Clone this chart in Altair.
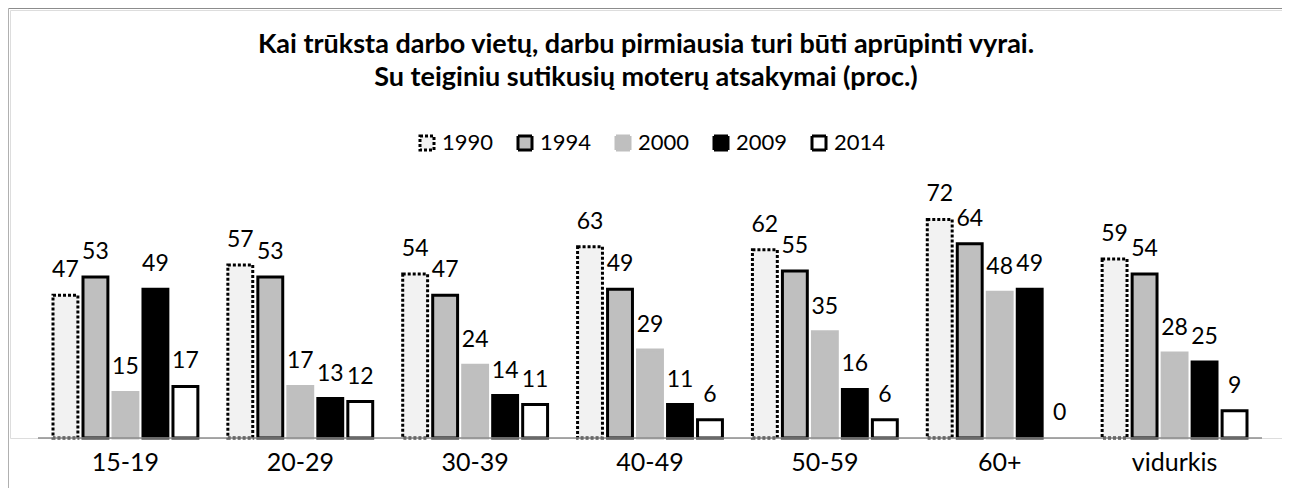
import altair as alt
import pandas as pd

categories = ["15-19", "20-29", "30-39", "40-49", "50-59", "60+", "vidurkis"]
years = ["1990", "1994", "2000", "2009", "2014"]
v1990 = [47, 57, 54, 63, 62, 72, 59]
v1994 = [53, 53, 47, 49, 55, 64, 54]
v2000 = [15, 17, 24, 29, 35, 48, 28]
v2009 = [49, 13, 14, 11, 16, 49, 25]
v2014 = [17, 12, 11, 6, 6, 0, 9]

title_lines = [
    "Kai trūksta darbo vietų, darbu pirmiausia turi būti aprūpinti vyrai.",
    "Su teiginiu sutikusių moterų atsakymai (proc.)",
]

rows = []
for yr, vals in zip(years, [v1990, v1994, v2000, v2009, v2014]):
    for c, v in zip(categories, vals):
        rows.append({"cat": c, "year": yr, "value": v})
df = pd.DataFrame(rows)

fills = ["#f2f2f2", "#bfbfbf", "#bfbfbf", "#000000", "#ffffff"]
strokes = ["#000000", "#000000", "#bfbfbf", "#000000", "#000000"]
widths = [3, 3, 0, 0, 3]
dashes = [[3, 2], [1, 0], [1, 0], [1, 0], [1, 0]]

W, H = 1272, 428
FONT = "Lato"

x = alt.X(
    "cat:N",
    sort=categories,
    scale=alt.Scale(range=[28, 1252], paddingInner=0, paddingOuter=0),
    axis=alt.Axis(title=None, domain=False, ticks=False, grid=False,
                  labelFont=FONT, labelFontSize=25, labelColor="black",
                  labelPadding=12, labelAngle=0),
)
xo = alt.XOffset("year:O", sort=years,
                 scale=alt.Scale(paddingInner=0.17, paddingOuter=0.5))
y = alt.Y("value:Q", scale=alt.Scale(domain=[0, 141], nice=False), axis=None)

leg = alt.Legend(title=None, orient="none", legendX=406, legendY=122,
                 direction="horizontal", symbolType="square", symbolSize=196,
                 labelFont=FONT, labelFontSize=22, labelColor="black",
                 columnPadding=18, labelOffset=4, padding=0)

bars = alt.Chart(df).transform_filter("datum.value > 0").mark_bar().encode(
    x=x, xOffset=xo, y=y,
    fill=alt.Fill("year:O", sort=years, scale=alt.Scale(domain=years, range=fills), legend=leg),
    stroke=alt.Stroke("year:O", sort=years, scale=alt.Scale(domain=years, range=strokes), legend=leg),
    strokeWidth=alt.StrokeWidth("year:O", sort=years, scale=alt.Scale(domain=years, range=widths), legend=leg),
    strokeDash=alt.StrokeDash("year:O", sort=years, scale=alt.Scale(domain=years, range=dashes), legend=leg),
)

labels = alt.Chart(df).mark_text(font=FONT, fontSize=23, dy=-25, baseline="middle", color="black").encode(
    x=x, xOffset=xo, y=y, text=alt.Text("value:Q"),
)

one = alt.Data(values=[{"a": 1}])
baseline = alt.Chart(one).mark_rule(color="#8c8c8c", strokeWidth=1.5).encode(
    x=alt.value(28), x2=alt.value(1252), y=alt.value(H)
)
frame_top = alt.Chart(one).mark_rule(color="#8c8c8c", strokeWidth=1).encode(
    x=alt.value(-1.5), x2=alt.value(W + 10), y=alt.value(-1.5)
)
frame_left = alt.Chart(one).mark_rule(color="#b0b0b0", strokeWidth=1).encode(
    x=alt.value(-1.5), y=alt.value(-1.5), y2=alt.value(H + 60)
)

chart = alt.layer(frame_top, frame_left, bars, baseline, labels).properties(
    width=W, height=H,
    title=alt.TitleParams(text=title_lines, font=FONT, fontSize=27, fontWeight="bold",
                          anchor="middle", frame="group", offset=-84, lineHeight=33,
                          color="black"),
    autosize=alt.AutoSizeParams(type="none"),
    padding={"left": 2, "top": 2, "right": 0, "bottom": 50},
).configure_view(stroke=None).configure(background="white")

chart.save("out.html", embed_options={"renderer": "svg", "actions": False})
